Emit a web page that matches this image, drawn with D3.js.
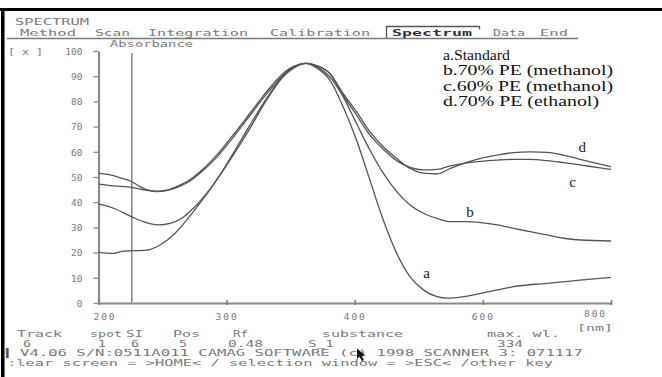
<!DOCTYPE html>
<html>
<head>
<meta charset="utf-8">
<script src="https://cdn.jsdelivr.net/npm/d3@7"></script>
<style>
  html, body { margin: 0; padding: 0; background: #fff; }
  svg { display: block; }
  text { white-space: pre; }
</style>
</head>
<body>
<svg id="chart" width="662" height="377"></svg>
<script>
// ---------------- data ----------------
const xTickLabels = [200, 300, 400, 600, 800];
const yTickValues = [0, 10, 20, 30, 40, 50, 60, 70, 80, 90, 100];
const menuItems = ["Method", "Scan", "Integration", "Calibration", "Spectrum", "Data", "End"];
const legendLabels = ["a.Standard", "b.70% PE (methanol)", "c.60% PE (methanol)", "d.70% PE (ethanol)"];
const curveNames = ["a", "b", "c", "d"];
const infoFields = ["Track", "spot", "SI", "Pos", "Rf", "substance", "max. wl."];
const infoValues = ["6", "1", "6", "5", "0.48", "S_1", "334"];
const cursorWavelength = 226;

// [wavelength nm, %]
const seriesA = [[200,20.1],[211.7,19.7],[219.5,20.6],[237.7,21.0],[248,23.0],[258.4,27.0],[268.8,32.9],[279.2,39.6],[292.2,48.8],[305.1,58.7],[318.2,69.3],[331.2,80.6],[344.1,89.8],[351.9,93.1],[361.1,95.1],[371.2,93.0],[380.5,88.5],[390.9,77.9],[402.7,64.7],[423.6,48.8],[444.5,32.9],[465.5,19.7],[486.4,10.4],[507.3,5.2],[528.4,2.5],[544.1,1.9],[570.2,2.5],[596.4,3.8],[622.4,5.2],[648.2,6.5],[700,7.8],[752,9.1],[800,10.2]];
const seriesB = [[200,39.3],[211.7,37.6],[226,34.2],[235,32.3],[246.7,31.0],[255.8,31.6],[265,33.6],[274,37.6],[284.4,43.5],[294.8,50.8],[305.1,59.4],[318.2,70.6],[331.2,81.2],[341.5,88.5],[349.3,92.5],[357.2,94.7],[362.4,95.1],[371.2,93.5],[380.5,89.8],[390.9,81.9],[402.7,71.3],[423.6,60.7],[444.5,51.5],[465.5,44.2],[486.4,38.9],[507.3,35.6],[528.4,33.6],[549.3,32.3],[570.2,32.3],[596.4,31.9],[622.4,31.0],[648.2,29.6],[674.1,28.3],[700.1,27.0],[725.9,25.7],[751.8,25.0],[800,24.6]];
const seriesC = [[200,51.5],[209,50.8],[216.9,49.7],[226,48.1],[232.5,46.2],[238.9,44.8],[245.5,44.4],[253.3,44.8],[261,46.2],[268.8,48.1],[279.2,52.1],[292.2,58.7],[305.1,66.7],[318.2,75.3],[331.2,83.9],[341.5,89.8],[349.3,93.1],[357.2,94.8],[362.4,95.1],[371.2,94.0],[380.5,91.1],[390.9,82.5],[402.7,74.6],[423.6,66.7],[444.5,61.0],[465.5,56.5],[486.4,53.8],[507.3,52.8],[528.4,53.0],[549.3,54.4],[570.2,55.4],[596.4,56.2],[622.4,56.7],[648.2,57.0],[674.1,57.0],[700.1,56.5],[725.9,55.7],[751.8,54.8],[777.8,53.8],[800,53.0]];
const seriesD = [[200,47.2],[211.4,46.5],[226,45.9],[232.5,45.2],[238.9,44.6],[245.5,44.2],[253.3,44.6],[261,45.8],[268.8,47.6],[279.2,51.5],[292.2,57.8],[305.1,65.7],[318.2,74.4],[331.2,83.0],[341.5,89.0],[349.3,92.6],[357.2,94.6],[362.4,95.1],[371.2,94.0],[380.5,91.1],[390.9,83.2],[402.7,75.9],[423.6,68.0],[444.5,62.0],[465.5,57.4],[486.4,53.4],[507.3,51.5],[528.4,51.2],[549.3,53.4],[570.2,55.4],[596.4,57.4],[622.4,58.7],[648.2,59.7],[674.1,60.0],[700.1,59.8],[725.9,58.7],[751.8,57.0],[777.8,55.4],[800,54.1]];
// curve label anchors in data space [wavelength, %]
const curveLabelAnchors = [[512, 10], [580, 34], [740, 46], [755, 60]];

// ---------------- layout ----------------
const svg = d3.select("#chart");
const MONO = "'DejaVu Sans Mono', monospace";
const SERIF = "'Liberation Serif', 'Times New Roman', serif";
const GREY = "#7a7a7a";

const x0 = 98.5, x1 = 611;
const x = d3.scaleLinear()
  .domain(xTickLabels)
  .range(xTickLabels.map((d, i) => x0 + i * (x1 - x0) / (xTickLabels.length - 1)));
const y = d3.scaleLinear().domain([0, 100]).range([303, 51]);

function txt(px, py, s, o = {}) {
  const t = svg.append("text")
    .attr("x", px).attr("y", py)
    .attr("font-family", o.family || MONO)
    .attr("font-size", o.size || 9)
    .attr("fill", o.fill || GREY)
    .attr("font-weight", o.weight || "normal")
    .attr("text-anchor", o.anchor || "start")
    .text(s);
  if (o.len) t.attr("textLength", o.len).attr("lengthAdjust", "spacingAndGlyphs");
  return t;
}

// frame
svg.append("rect").attr("x", 0).attr("y", 8).attr("width", 662).attr("height", 3).attr("fill", "#000");
svg.append("rect").attr("x", 1).attr("y", 8).attr("width", 3.5).attr("height", 369).attr("fill", "#000");

// header
txt(15, 24.5, "SPECTRUM", { size: 9, len: 74 });
const menuX = [20, 95, 148, 270, 392, 493, 540];
const menuLen = [56, 35, 100, 100, 80, 32, 28];
menuItems.forEach((m, i) => {
  const isActive = m === "Spectrum";
  txt(menuX[i], 35.5, m, { size: 9.5, len: menuLen[i],
    fill: isActive ? "#333" : GREY, weight: isActive ? "bold" : "normal" });
});
svg.append("line").attr("x1", 7).attr("x2", 578).attr("y1", 38.5).attr("y2", 38.5)
  .attr("stroke", GREY).attr("stroke-width", 1.3);
svg.append("path").attr("d", "M386.5,38 V26.5 H479.5 V29.5")
  .attr("fill", "none").attr("stroke", "#555").attr("stroke-width", 1.3);

// y-axis title & unit
txt(8, 54.5, "[ x ]", { size: 9, len: 35 });
txt(110, 46.5, "Absorbance", { size: 9, len: 83 });

// axes
const gy = svg.append("g").attr("transform", `translate(${x0},0)`)
  .call(d3.axisLeft(y).tickValues(yTickValues).tickSize(5).tickSizeOuter(0).tickPadding(11));
gy.select(".domain").attr("stroke", "#8a8a8a").attr("stroke-width", 2.2);
gy.selectAll(".tick line").attr("stroke", "#8a8a8a").attr("stroke-width", 1.3);
gy.selectAll(".tick text").attr("font-family", MONO).attr("font-size", 9.5)
  .attr("fill", GREY).attr("dy", "0.35em");

const gx = svg.append("g").attr("transform", `translate(0,${y(0)})`)
  .call(d3.axisBottom(x).tickValues(xTickLabels).tickSize(3).tickSizeOuter(0).tickPadding(7));
gx.select(".domain").attr("stroke", "#8a8a8a").attr("stroke-width", 2);
gx.selectAll(".tick line").attr("stroke", "#777").attr("stroke-width", 1.5).attr("y1", -3).attr("y2", 2);
gx.selectAll(".tick text").attr("font-family", MONO).attr("font-size", 9.5)
  .attr("fill", GREY).attr("letter-spacing", 2)
  .attr("dx", (d, i) => i === 0 ? 6 : (i === xTickLabels.length - 1 ? -16 : 0))
  .attr("dy", (d, i) => i === xTickLabels.length - 1 ? "0.4em" : "0.71em");
txt(577, 331, "[nm]", { size: 9, len: 36 });

// cursor line
svg.append("line").attr("x1", x(cursorWavelength)).attr("x2", x(cursorWavelength))
  .attr("y1", 53).attr("y2", y(0)).attr("stroke", "#8a8a8a").attr("stroke-width", 1.6);

// curves
const line = d3.line().x(d => x(d[0])).y(d => y(d[1])).curve(d3.curveMonotoneX);
[seriesA, seriesB, seriesC, seriesD].forEach(s => {
  svg.append("path").datum(s).attr("d", line)
    .attr("fill", "none").attr("stroke", "#555").attr("stroke-width", 1.3);
});

// curve labels
curveNames.forEach((n, i) => {
  txt(x(curveLabelAnchors[i][0]), y(curveLabelAnchors[i][1]), n,
    { family: SERIF, size: 15, fill: "#222", anchor: "middle" });
});

// legend
const legendLen = [67, 170, 170, 156];
legendLabels.forEach((l, i) => {
  txt(443, 60 + i * 15.4, l, { family: SERIF, size: 14.5, fill: "#111", len: legendLen[i] });
});

// info block
const fieldX = [17, 90, 126, 173, 233, 322, 487];
const fieldLen = [45, 32, 17, 27, 15, 81, 73];
infoFields.forEach((f, i) => txt(fieldX[i], 337, f, { size: 8.5, len: fieldLen[i] }));
const valX = [23, 98, 131, 179, 228, 308, 497];
const valLen = [8, 8, 8, 8, 35, 26, 26];
infoValues.forEach((v, i) => txt(valX[i], 346.5, v, { size: 8.5, len: valLen[i] }));

txt(6, 356, "\u258C", { size: 8.5, fill: "#555" });
txt(20, 356, "V4.06 S/N:0511A011 CAMAG SOFTWARE (c) 1998 SCANNER 3: 071117", { size: 8.5, len: 563 });
txt(7, 366, ":lear screen = >HOME< / selection window = >ESC< /other key", { size: 8.5, len: 546 });
// mouse pointer
svg.append("path").attr("d", "M357,348.5 L357,359 L359.5,356.8 L362,361 L364,360 L361.6,356 L365.3,355.6 Z")
  .attr("fill", "#111");
</script>
</body>
</html>
